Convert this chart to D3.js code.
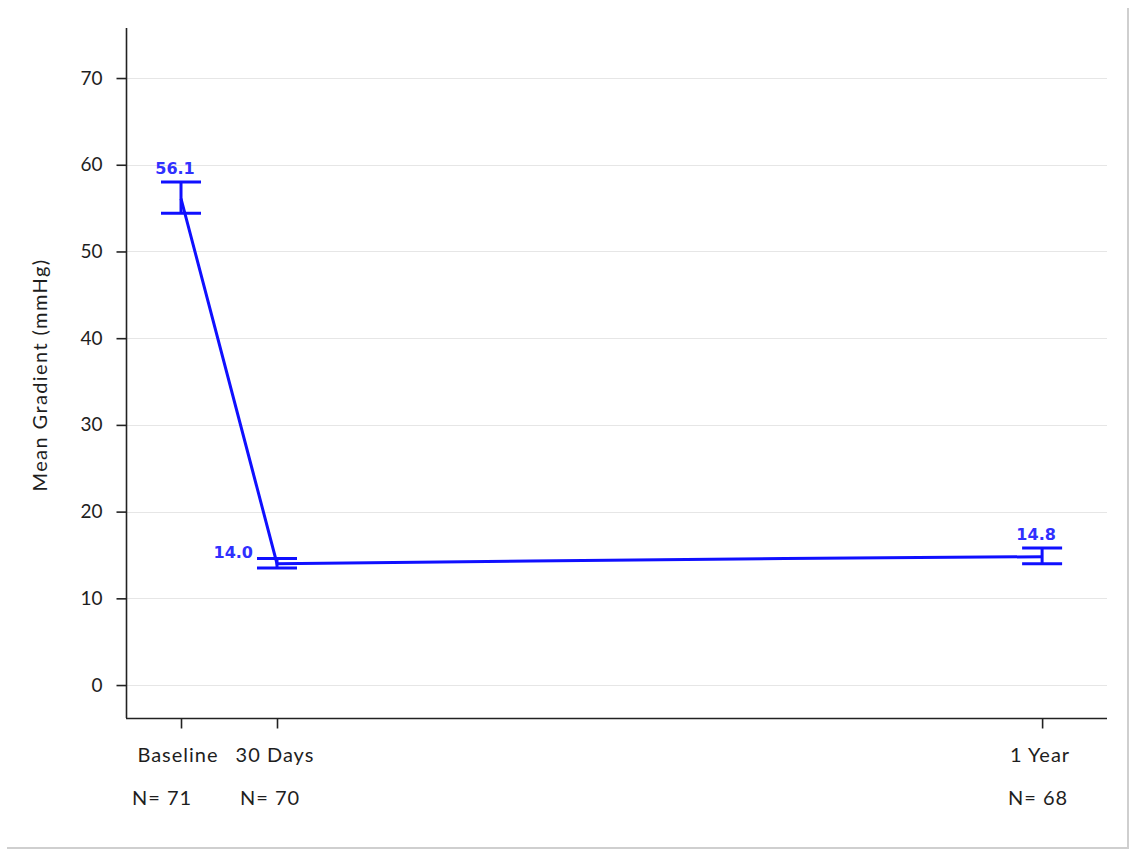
<!DOCTYPE html>
<html>
<head>
<meta charset="utf-8">
<script src="https://cdn.jsdelivr.net/npm/d3@7"></script>
<style>
  html, body { margin: 0; padding: 0; background: #fff; }
  svg { display: block; }
</style>
</head>
<body>
<svg id="chart" width="1130" height="850"></svg>
<script>
// ---- data ----
const visitLabels = ["Baseline", "30 Days", "", "", "1 Year"];
const visitN = ["N= 71", "N= 70", "", "", "N= 68"];
const visitX = [0, 1, 3.64, 6.29, 8.97];          // relative time position of each visit
const meanValues = [56.1, 14.0, 14.3, 14.6, 14.8];
const upperValues = [58.0, 14.6, null, null, 15.8];
const lowerValues = [54.4, 13.5, null, null, 14.0];
const showLabel = [true, true, false, false, true];
const yTicks = [0, 10, 20, 30, 40, 50, 60, 70];
const yTitle = "Mean Gradient (mmHg)";

(function () {
// ---- layout ----
const svg = d3.select("#chart");
const pLeft = 126, pRight = 1107, pTop = 28, pBottom = 718;
const x = d3.scaleLinear().domain([-0.573, 9.646]).range([pLeft, pRight]);
const y = d3.scaleLinear().domain([-3.8, 75.77]).range([pBottom, pTop]);
const blue = "#1010ff";
const textCol = "#1e1e1e";
const font = "Lato, 'Open Sans', 'Liberation Sans', sans-serif";
const catOffset = [-3, -2, 0, 0, -2];
const nOffset = [-19, -7, 0, 0, -4];

// frame shadow
svg.append("line").attr("x1", 7).attr("x2", 1129).attr("y1", 848).attr("y2", 848)
  .attr("stroke", "#cfcfcf").attr("stroke-width", 2);
svg.append("line").attr("x1", 1128).attr("x2", 1128).attr("y1", 8).attr("y2", 849)
  .attr("stroke", "#cfcfcf").attr("stroke-width", 2);

// grid
svg.append("g").selectAll("line").data(yTicks).join("line")
  .attr("x1", pLeft).attr("x2", pRight)
  .attr("y1", d => Math.round(y(d)) + 0.5).attr("y2", d => Math.round(y(d)) + 0.5)
  .attr("stroke", "#e6e6e6").attr("stroke-width", 1);

// y axis
const yAxis = svg.append("g").attr("transform", `translate(${pLeft + 0.5},0)`)
  .call(d3.axisLeft(y).tickValues(yTicks).tickSize(10).tickPadding(14).tickFormat(d3.format("d")));
yAxis.select(".domain").attr("d", `M0,${pTop}V${pBottom}`).attr("stroke", "#222").attr("stroke-width", 1.6);
yAxis.selectAll(".tick line").attr("stroke", "#222").attr("stroke-width", 1.6);
yAxis.selectAll(".tick text").attr("font-family", font).attr("font-size", 19).attr("fill", textCol);

// x axis
const tickIdx = visitLabels.map((l, i) => i).filter(i => visitLabels[i] !== "");
const xAxis = svg.append("g").attr("transform", `translate(0,${pBottom + 0.5})`)
  .call(d3.axisBottom(x).tickValues(tickIdx.map(i => visitX[i])).tickSize(10)
    .tickFormat(() => ""));
xAxis.select(".domain").attr("d", `M${pLeft},0H${pRight}`).attr("stroke", "#222").attr("stroke-width", 1.6);
xAxis.selectAll(".tick line").attr("stroke", "#222").attr("stroke-width", 1.6);

svg.append("g").selectAll("text").data(tickIdx).join("text")
  .attr("x", i => x(visitX[i]) + catOffset[i]).attr("y", 762)
  .attr("text-anchor", "middle").attr("font-family", font).attr("font-size", 20)
  .attr("letter-spacing", 1).attr("fill", textCol)
  .text(i => visitLabels[i]);
svg.append("g").selectAll("text").data(tickIdx).join("text")
  .attr("x", i => x(visitX[i]) + nOffset[i]).attr("y", 805)
  .attr("text-anchor", "middle").attr("font-family", font).attr("font-size", 20)
  .attr("letter-spacing", 1).attr("fill", textCol)
  .text(i => visitN[i]);

// y title
svg.append("text").attr("transform", "translate(47,375) rotate(-90)")
  .attr("text-anchor", "middle").attr("font-family", font).attr("font-size", 20)
  .attr("letter-spacing", 1.4).attr("fill", textCol)
  .text(yTitle);

// line
const pts = visitX.map((v, i) => ({ x: v, y: meanValues[i], i }));
svg.append("path").datum(pts)
  .attr("d", d3.line().x(d => x(d.x)).y(d => y(d.y)))
  .attr("fill", "none").attr("stroke", blue).attr("stroke-width", 3);

// error bars
const eb = pts.filter(d => upperValues[d.i] != null);
const capW = 20;
const g = svg.append("g").attr("stroke", blue).attr("stroke-width", 3);
eb.forEach(d => {
  const cx = x(d.x);
  g.append("line").attr("x1", cx).attr("x2", cx).attr("y1", y(upperValues[d.i])).attr("y2", y(lowerValues[d.i]));
  g.append("line").attr("x1", cx - capW).attr("x2", cx + capW).attr("y1", y(upperValues[d.i])).attr("y2", y(upperValues[d.i]));
  g.append("line").attr("x1", cx - capW).attr("x2", cx + capW).attr("y1", y(lowerValues[d.i])).attr("y2", y(lowerValues[d.i]));
});

// value labels
const lab = pts.filter(d => showLabel[d.i]);
svg.append("g").selectAll("text").data(lab).join("text")
  .attr("x", d => d.i === 1 ? x(d.x) - 24 : x(d.x) - 6)
  .attr("y", d => d.i === 1 ? y(d.y) - 5.5 : y(upperValues[d.i]) - 8)
  .attr("text-anchor", d => d.i === 1 ? "end" : "middle")
  .attr("font-family", "'DejaVu Sans', Verdana, sans-serif").attr("font-weight", "bold")
  .attr("font-size", 16).attr("fill", "#3030ff")
  .text(d => d3.format(".1f")(d.y));
})();
</script>
</body>
</html>
